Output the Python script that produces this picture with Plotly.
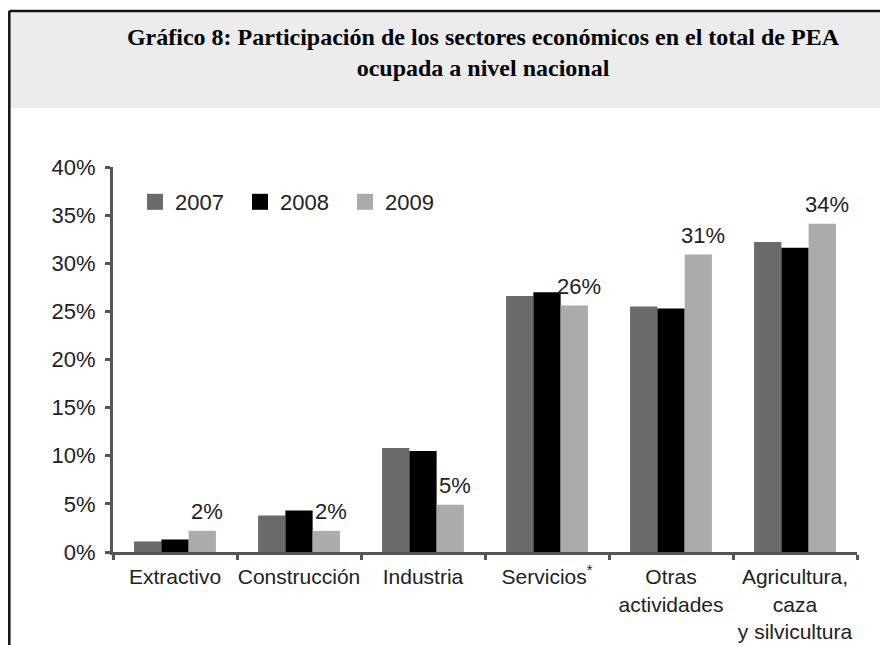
import plotly.graph_objects as go

sectores = ["Extractivo", "Construcción", "Industria", "Servicios<sup>*</sup>",
            "Otras<br>actividades", "Agricultura,<br>caza<br>y silvicultura"]
anios = ["2007", "2008", "2009"]
v2007 = [1.1, 3.8, 10.8, 26.6, 25.5, 32.2]
v2008 = [1.3, 4.3, 10.5, 27.0, 25.3, 31.6]
v2009 = [2.2, 2.2, 4.9, 25.6, 30.9, 34.1]
yticks = [0, 5, 10, 15, 20, 25, 30, 35, 40]
colores = ["#6a6a6a", "#000000", "#ababab"]

# page has an 8px body margin, so the figure is 8px smaller
W, H = 880, 637
L, R, T, B = 105, 31, 159, 93
pw = W - L - R
ph = H - T - B


def px_x(x):
    return (x - L) / pw


def px_y(y):
    return (H - B - y) / ph


fig = go.Figure()
for anio, vals, col in zip(anios, [v2007, v2008, v2009], colores):
    fig.add_bar(x=sectores, y=vals, name=anio, marker_color=col,
                marker_line_width=0, showlegend=False)
    # legend entry with a bigger square
    fig.add_scatter(x=[None], y=[None], mode="markers", name=anio,
                    marker=dict(symbol="square", size=16, color=col))

for s, v in zip(sectores, v2009):
    fig.add_annotation(x=s, y=v, text=f"{v:.0f}%", showarrow=False,
                       xshift=32, yshift=5, yanchor="bottom",
                       font=dict(size=22, color="#222"))

# header box and frame
fig.add_shape(type="rect", xref="paper", yref="paper",
              x0=px_x(2), x1=px_x(W + 5), y0=px_y(100), y1=px_y(4),
              fillcolor="#ececec", line_width=0, layer="below")
fig.add_shape(type="line", xref="paper", yref="paper",
              x0=px_x(1.3), x1=px_x(W + 5), y0=px_y(3), y1=px_y(3),
              line=dict(color="#111", width=2.5))
fig.add_shape(type="line", xref="paper", yref="paper",
              x0=px_x(1.3), x1=px_x(1.3), y0=px_y(3), y1=px_y(H + 5),
              line=dict(color="#111", width=2.5))

fig.update_layout(
    width=W, height=H,
    margin=dict(l=L, r=R, t=T, b=B, autoexpand=False),
    paper_bgcolor="white", plot_bgcolor="white",
    barmode="group", bargap=0.34, bargroupgap=0,
    font=dict(family="Liberation Sans, Arial", size=22, color="#222"),
    title=dict(text="<b>Gráfico 8: Participación de los sectores económicos en el total de PEA<br>ocupada a nivel nacional</b>",
               x=475 / W, xanchor="center", y=1 - 36.5 / H, yanchor="middle",
               font=dict(family="Liberation Serif, Times New Roman", size=24, color="#000")),
    legend=dict(orientation="h", x=22 / pw, y=px_y(194), xanchor="left", yanchor="middle",
                bgcolor="rgba(0,0,0,0)", font=dict(size=22, color="#222"),
                entrywidth=60, entrywidthmode="pixels", itemclick=False),
    xaxis=dict(showline=True, linecolor="#555", linewidth=3, ticks="outside",
               tickson="boundaries", ticklen=5, tickwidth=3, tickcolor="#555",
               showgrid=False, fixedrange=True, tickangle=0, automargin=False,
               ticklabelstandoff=4, tickfont=dict(size=21)),
    yaxis=dict(range=[0, 40], tickvals=yticks, ticktext=[f"{t}%" for t in yticks],
               showline=True, linecolor="#555", linewidth=3,
               ticks="outside", ticklen=5, tickwidth=3, tickcolor="#555",
               showgrid=False, zeroline=False, ticklabelstandoff=5, automargin=False),
)

fig.write_html("out.html")
